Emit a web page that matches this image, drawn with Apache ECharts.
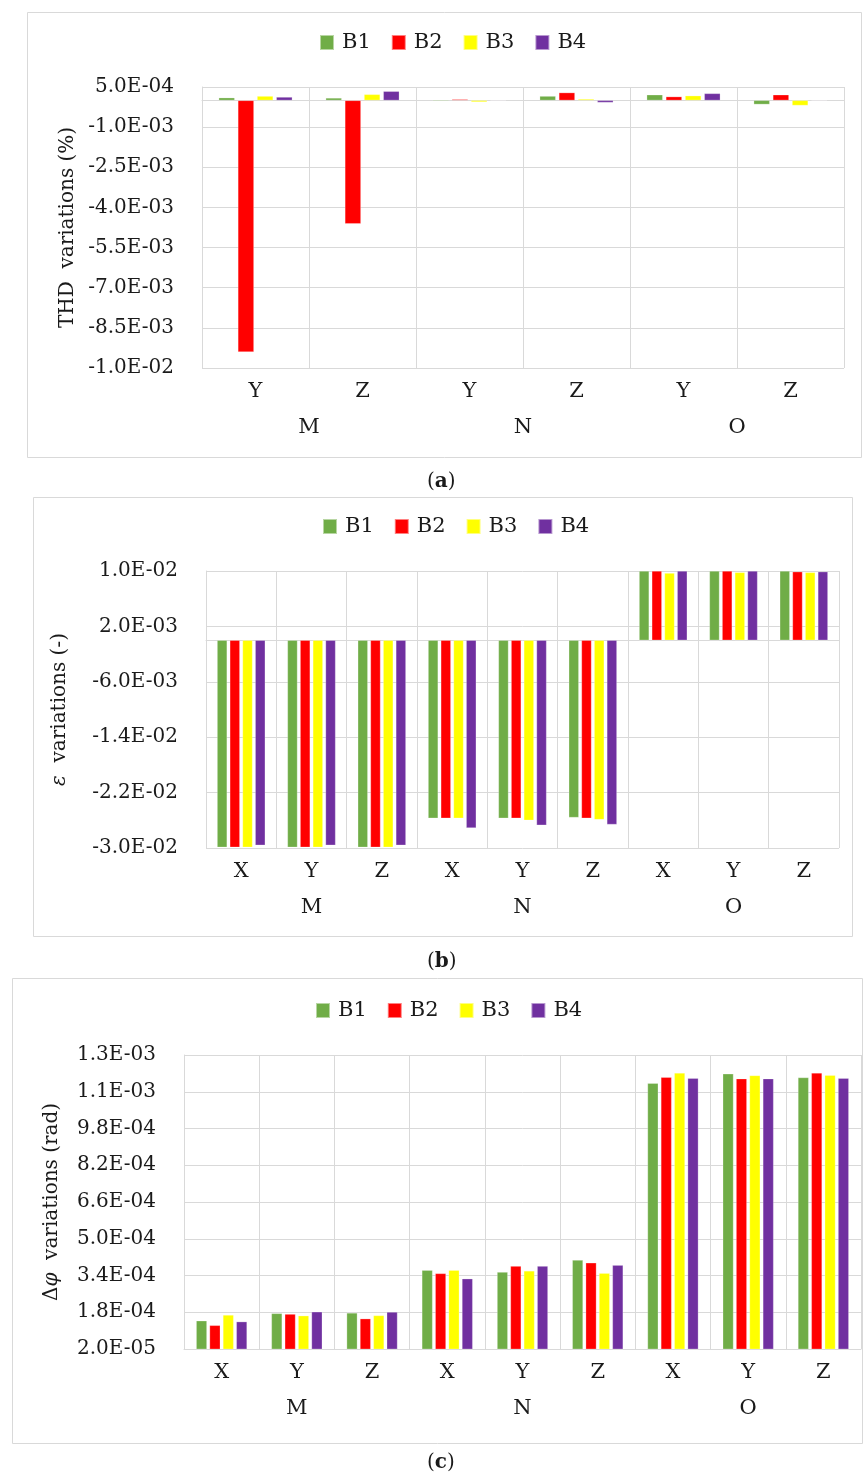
<!DOCTYPE html>
<html>
<head>
<meta charset="utf-8">
<script src="https://cdn.jsdelivr.net/npm/echarts@6/dist/echarts.min.js"></script>
<style>
html,body{margin:0;padding:0;background:#fff;}
#chart{width:863px;height:1477px;}
</style>
</head>
<body>
<div id="chart"></div>
<script>
// ---------- data ----------
const seriesNames = ['B1', 'B2', 'B3', 'B4'];
const seriesColors = ['#70AD47', '#FF0000', '#FFFF00', '#7030A0'];
const groupLabels = ['M', 'N', 'O'];

// (a) THD variations (%)
const thdCategories = ['Y', 'Z', 'Y', 'Z', 'Y', 'Z'];
const thdB1 = [1.0e-4, 0.9e-4, -3e-5, 1.6e-4, 2.1e-4, -1.5e-4];
const thdB2 = [-9.40e-3, -4.61e-3, 4e-5, 2.9e-4, 1.4e-4, 2.1e-4];
const thdB3 = [1.6e-4, 2.25e-4, -6e-5, 5e-5, 1.75e-4, -1.9e-4];
const thdB4 = [1.25e-4, 3.4e-4, -2e-5, -8e-5, 2.6e-4, -2e-5];
const thdTicks = { min: -1.0e-2, max: 5.0e-4, interval: 1.5e-3 };

// (b) epsilon variations (-)
const epsCategories = ['X', 'Y', 'Z', 'X', 'Y', 'Z', 'X', 'Y', 'Z'];
const epsB1 = [-0.0299, -0.0299, -0.0299, -0.0257, -0.0257, -0.0256, 0.0100, 0.0100, 0.0100];
const epsB2 = [-0.0299, -0.0299, -0.0299, -0.0257, -0.0257, -0.0257, 0.0100, 0.0100, 0.0099];
const epsB3 = [-0.0299, -0.0299, -0.0299, -0.0257, -0.0260, -0.0259, 0.0097, 0.0098, 0.0098];
const epsB4 = [-0.0296, -0.0296, -0.0296, -0.0271, -0.0267, -0.0266, 0.0100, 0.0100, 0.0099];
const epsTicks = { min: -3.0e-2, max: 1.0e-2, interval: 8.0e-3 };

// (c) delta phi variations (rad)
const phiCategories = ['X', 'Y', 'Z', 'X', 'Y', 'Z', 'X', 'Y', 'Z'];
const phiB1 = [1.43e-4, 1.75e-4, 1.77e-4, 3.63e-4, 3.55e-4, 4.07e-4, 1.177e-3, 1.218e-3, 1.202e-3];
const phiB2 = [1.23e-4, 1.72e-4, 1.52e-4, 3.49e-4, 3.81e-4, 3.95e-4, 1.203e-3, 1.197e-3, 1.222e-3];
const phiB3 = [1.68e-4, 1.65e-4, 1.66e-4, 3.63e-4, 3.60e-4, 3.50e-4, 1.222e-3, 1.211e-3, 1.212e-3];
const phiB4 = [1.39e-4, 1.82e-4, 1.81e-4, 3.26e-4, 3.81e-4, 3.85e-4, 1.199e-3, 1.197e-3, 1.199e-3];
const phiTicks = { min: 2.0e-5, max: 1.3e-3, interval: 1.6e-4 };

// ---------- helpers ----------
const FONT = 'DejaVu Serif';
const TXT = '#1a1a1a';
const GRIDC = '#d9d9d9';

function sci(v) {
  const s = Number(v).toExponential(1);
  const parts = s.split('e');
  const sign = parts[1][0] === '-' ? '-' : '+';
  const d = parts[1].replace(/^[+-]/, '');
  return parts[0] + 'E' + sign + d.padStart(2, '0');
}

const panels = [
  { cats: thdCategories, data: [thdB1, thdB2, thdB3, thdB4], ticks: thdTicks,
    grid: { left: 202, top: 87, width: 642, height: 281 },
    name: 'THD  variations (%)', nameGap: 124, barWidth: 16, barGap: '20%',
    legendTop: 27, legendLeft: 314 },
  { cats: epsCategories, data: [epsB1, epsB2, epsB3, epsB4], ticks: epsTicks,
    grid: { left: 206, top: 571, width: 633, height: 277 },
    name: '{i|ε}  variations (-)', nameGap: 136, barWidth: 10, barGap: '27%',
    legendTop: 511, legendLeft: 317 },
  { cats: phiCategories, data: [phiB1, phiB2, phiB3, phiB4], ticks: phiTicks,
    grid: { left: 184, top: 1055, width: 677, height: 294 },
    name: 'Δ{i|φ}  variations (rad)', nameGap: 122, barWidth: 10.7, barGap: '25%',
    legendTop: 995, legendLeft: 310 }
];

const grids = [], xAxes = [], yAxes = [], series = [], legends = [];
panels.forEach((p, gi) => {
  grids.push(Object.assign({ containLabel: false }, p.grid));
  xAxes.push({
    type: 'category', gridIndex: gi, data: p.cats, position: 'bottom',
    axisLine: { show: true, lineStyle: { color: GRIDC, width: 1 } },
    axisTick: { show: false },
    splitLine: { show: true, lineStyle: { color: GRIDC, width: 1 } },
    axisLabel: { color: TXT, fontFamily: FONT, fontSize: 21, margin: 13, interval: 0 }
  });
  xAxes.push({
    type: 'category', gridIndex: gi, data: groupLabels, position: 'bottom', offset: 41,
    axisLine: { show: false }, axisTick: { show: false }, splitLine: { show: false },
    axisLabel: { color: TXT, fontFamily: FONT, fontSize: 21, margin: 8, interval: 0 }
  });
  yAxes.push({
    type: 'value', gridIndex: gi,
    min: p.ticks.min, max: p.ticks.max, interval: p.ticks.interval,
    axisLine: { show: true, lineStyle: { color: GRIDC, width: 1 } },
    axisTick: { show: false },
    splitLine: { show: true, lineStyle: { color: GRIDC, width: 1 } },
    axisLabel: { color: TXT, fontFamily: FONT, fontSize: 20, margin: 28, formatter: sci },
    name: p.name, nameLocation: 'middle', nameRotate: 90, nameGap: p.nameGap,
    nameTextStyle: { color: TXT, fontFamily: FONT, fontSize: 20,
      rich: { i: { fontStyle: 'italic', fontFamily: FONT, fontSize: 20, color: TXT } } }
  });
  seriesNames.forEach((n, si) => {
    series.push({
      type: 'bar', name: n, xAxisIndex: gi * 2, yAxisIndex: gi,
      data: p.data[si], barWidth: p.barWidth, barGap: p.barGap,
      itemStyle: { color: seriesColors[si], borderColor: 'rgba(255,255,255,0.5)', borderWidth: 0.5 },
      clip: true, animation: false
    });
  });
  legends.push({
    data: seriesNames, top: p.legendTop, left: p.legendLeft, orient: 'horizontal',
    icon: 'rect', itemWidth: 14, itemHeight: 15, itemGap: 20,
    selectedMode: false,
    textStyle: { color: TXT, fontFamily: FONT, fontSize: 21, padding: [0, 0, 0, 3] }
  });
});

const captions = [
  { t: 'a', top: 472 }, { t: 'b', top: 952 }, { t: 'c', top: 1453 }
].map(c => ({
  text: '({b|' + c.t + '})', left: 427, top: c.top, padding: 0,
  textStyle: { color: TXT, fontFamily: FONT, fontSize: 20, fontWeight: 'normal',
    rich: { b: { fontWeight: 'bold', fontFamily: FONT, fontSize: 20, color: TXT } } }
}));

const boxes = [
  { x: 27.5, y: 12.5, w: 834, h: 445 },
  { x: 33.5, y: 497.5, w: 819, h: 439 },
  { x: 12.5, y: 978.5, w: 850, h: 465 }
].map(b => ({
  type: 'rect', shape: { x: b.x, y: b.y, width: b.w, height: b.h },
  style: { fill: 'none', stroke: GRIDC, lineWidth: 1 }, silent: true, z: -1
}));

const chart = echarts.init(document.getElementById('chart'), null, { renderer: 'canvas' });
chart.setOption({
  animation: false,
  backgroundColor: '#fff',
  title: captions,
  legend: legends,
  grid: grids,
  xAxis: xAxes,
  yAxis: yAxes,
  series: series,
  graphic: boxes
});
</script>
</body>
</html>
